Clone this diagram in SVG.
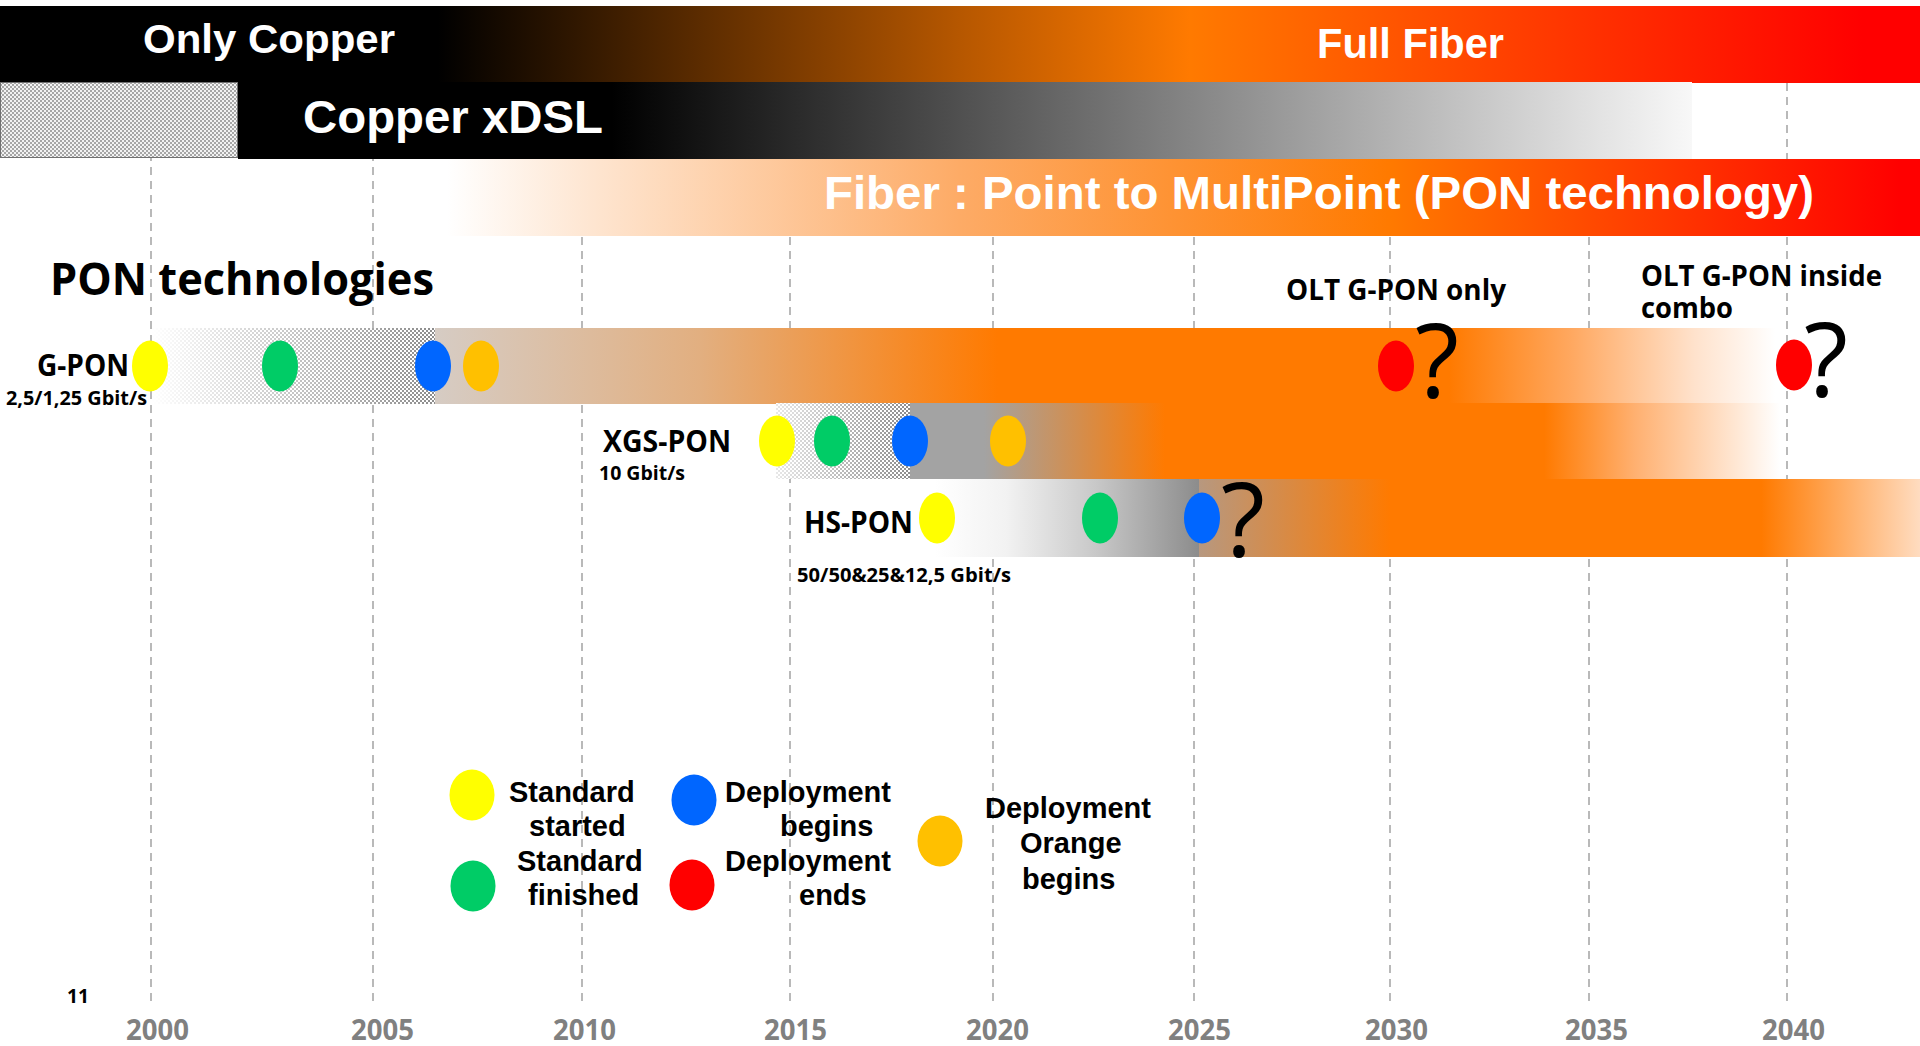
<svg xmlns="http://www.w3.org/2000/svg" width="1920" height="1046" viewBox="0 0 1920 1046">
  <defs>
    <style>
      .grid { stroke: #a8a8a8; stroke-width: 1.6; stroke-dasharray: 8 6; fill: none; }
      .band { font-family: "Liberation Sans", Arial, sans-serif; font-weight: bold; fill: #ffffff; }
      .lbl { font-family: "Open Sans", "Noto Sans", sans-serif; font-weight: bold; fill: #000000; }
      .year { font-family: "Open Sans", "Noto Sans", sans-serif; font-weight: bold; fill: #808080; font-size: 28px; }
      .leg { font-family: "Liberation Sans", Arial, sans-serif; font-weight: bold; fill: #000000; font-size: 29px; }
      .q { font-family: "Open Sans", "Noto Sans", sans-serif; font-weight: normal; fill: #000000; font-size: 102px; text-anchor: middle; }
      .y { fill: #ffff00; } .g { fill: #00cc66; } .b { fill: #0066ff; } .r { fill: #ff0000; } .o { fill: #ffc000; }
    </style>
    <pattern id="dither" width="4" height="4" patternUnits="userSpaceOnUse">
      <rect width="4" height="4" fill="#ffffff"/>
      <rect width="2" height="2" fill="#8c8c8c"/>
      <rect x="2" y="2" width="2" height="2" fill="#8c8c8c"/>
    </pattern>
    <pattern id="ditherLight" width="4" height="4" patternUnits="userSpaceOnUse">
      <rect width="4" height="4" fill="#f2f2f2"/>
      <rect width="2" height="2" fill="#a6a6a6"/>
      <rect x="2" y="2" width="2" height="2" fill="#a6a6a6"/>
    </pattern>
    <linearGradient id="fadeIn" x1="0" y1="0" x2="1" y2="0">
      <stop offset="0" stop-color="#ffffff" stop-opacity="1"/>
      <stop offset="1" stop-color="#ffffff" stop-opacity="0"/>
    </linearGradient>
    <linearGradient id="gradFull" gradientUnits="userSpaceOnUse" x1="0" y1="0" x2="1920" y2="0">
      <stop offset="0.228" stop-color="#000000"/>
      <stop offset="0.5" stop-color="#b65700"/>
      <stop offset="0.62" stop-color="#ff7a00"/>
      <stop offset="0.97" stop-color="#ff0000"/>
    </linearGradient>
    <linearGradient id="gradDsl" gradientUnits="userSpaceOnUse" x1="238" y1="0" x2="1692" y2="0">
      <stop offset="0.257" stop-color="#000000"/>
      <stop offset="1" stop-color="#f8f8f8"/>
    </linearGradient>
    <linearGradient id="gradPon" gradientUnits="userSpaceOnUse" x1="447" y1="0" x2="1920" y2="0">
      <stop offset="0" stop-color="#ffffff"/>
      <stop offset="0.1" stop-color="#fee5d0"/>
      <stop offset="0.348" stop-color="#fdab66"/>
      <stop offset="0.639" stop-color="#ff7a00"/>
      <stop offset="0.986" stop-color="#ff0000"/>
    </linearGradient>
    <linearGradient id="gradGpon" gradientUnits="userSpaceOnUse" x1="435" y1="0" x2="1775" y2="0">
      <stop offset="0" stop-color="#d6ccc4"/>
      <stop offset="0.198" stop-color="#e2af80"/>
      <stop offset="0.42" stop-color="#ff7a00"/>
      <stop offset="0.757" stop-color="#ff7a00"/>
      <stop offset="0.848" stop-color="#ffa860"/>
      <stop offset="0.94" stop-color="#ffe2cc"/>
      <stop offset="1" stop-color="#ffffff"/>
    </linearGradient>
    <linearGradient id="gradXgs" gradientUnits="userSpaceOnUse" x1="910" y1="0" x2="1780" y2="0">
      <stop offset="0" stop-color="#a3a3a3"/>
      <stop offset="0.085" stop-color="#a3a3a3"/>
      <stop offset="0.293" stop-color="#ff7a00"/>
      <stop offset="0.729" stop-color="#ff7a00"/>
      <stop offset="0.833" stop-color="#ffb070"/>
      <stop offset="1" stop-color="#ffffff"/>
    </linearGradient>
    <linearGradient id="gradHsGrey" gradientUnits="userSpaceOnUse" x1="935" y1="0" x2="1199" y2="0">
      <stop offset="0" stop-color="#ffffff"/>
      <stop offset="0.27" stop-color="#f2f2f2"/>
      <stop offset="0.61" stop-color="#c8c8c8"/>
      <stop offset="1" stop-color="#8c8c8c"/>
    </linearGradient>
    <linearGradient id="gradHs" gradientUnits="userSpaceOnUse" x1="1199" y1="0" x2="1920" y2="0">
      <stop offset="0" stop-color="#b7987f"/>
      <stop offset="0.265" stop-color="#ff7a00"/>
      <stop offset="0.78" stop-color="#ff7a00"/>
      <stop offset="1" stop-color="#ffdcc0"/>
    </linearGradient>
  </defs>

  <rect width="1920" height="1046" fill="#ffffff"/>

  <!-- year grid -->
  <g id="connectors">
    <line class="grid" x1="151" y1="83" x2="151" y2="1007"/>
    <line class="grid" x1="373" y1="83" x2="373" y2="1007"/>
    <line class="grid" x1="582" y1="83" x2="582" y2="1007"/>
    <line class="grid" x1="790" y1="83" x2="790" y2="1007"/>
    <line class="grid" x1="993" y1="83" x2="993" y2="1007"/>
    <line class="grid" x1="1194" y1="83" x2="1194" y2="1007"/>
    <line class="grid" x1="1390" y1="83" x2="1390" y2="1007"/>
    <line class="grid" x1="1589" y1="83" x2="1589" y2="1007"/>
    <line class="grid" x1="1787" y1="83" x2="1787" y2="1007"/>
  </g>

  <!-- access network bands -->
  <g id="band-copper-fiber">
    <rect x="0" y="6" width="1920" height="77" fill="url(#gradFull)"/>
    <text class="band" x="143" y="53" font-size="41" textLength="252" lengthAdjust="spacingAndGlyphs">Only Copper</text>
    <text class="band" x="1317" y="58" font-size="42" textLength="187" lengthAdjust="spacingAndGlyphs">Full Fiber</text>
  </g>
  <g id="band-xdsl">
    <rect x="0.5" y="82.5" width="237" height="75" fill="url(#ditherLight)" stroke="#707070" stroke-width="1"/>
    <rect x="238" y="82" width="1454" height="77" fill="url(#gradDsl)"/>
    <text class="band" x="303" y="133" font-size="47" textLength="300" lengthAdjust="spacingAndGlyphs">Copper xDSL</text>
  </g>
  <g id="band-pon">
    <rect x="447" y="159" width="1473" height="77" fill="url(#gradPon)"/>
    <text class="band" x="824" y="209" font-size="47" textLength="990" lengthAdjust="spacingAndGlyphs">Fiber : Point to MultiPoint (PON technology)</text>
  </g>

  <text id="title" class="lbl" x="50" y="295" font-size="45" textLength="384" lengthAdjust="spacingAndGlyphs">PON technologies</text>

  <!-- G-PON -->
  <g id="gpon">
    <rect x="152" y="328" width="283" height="76" fill="url(#dither)"/>
    <rect x="152" y="328" width="283" height="76" fill="url(#fadeIn)"/>
    <rect x="435" y="328" width="1340" height="76" fill="url(#gradGpon)"/>
    <text class="lbl" x="37" y="376" font-size="30" textLength="92" lengthAdjust="spacingAndGlyphs">G-PON</text>
    <text class="lbl" x="6" y="405" font-size="19" textLength="141" lengthAdjust="spacingAndGlyphs">2,5/1,25 Gbit/s</text>
    <ellipse class="y" cx="150" cy="366" rx="18" ry="25.5"/>
    <ellipse class="g" cx="280" cy="366" rx="18" ry="25.5"/>
    <ellipse class="b" cx="433" cy="366" rx="18" ry="25.5"/>
    <ellipse class="o" cx="481" cy="366" rx="18" ry="25.5"/>
    <ellipse class="r" cx="1396" cy="366" rx="18" ry="25.5"/>
    <text class="q" x="1437" y="398">?</text>
    <ellipse class="r" cx="1794" cy="365" rx="18" ry="25.5"/>
    <text class="q" x="1826" y="397">?</text>
  </g>

  <g id="olt-notes">
    <text class="lbl" x="1286" y="300" font-size="29" textLength="220" lengthAdjust="spacingAndGlyphs">OLT G-PON only</text>
    <text class="lbl" x="1641" y="286" font-size="29" textLength="241" lengthAdjust="spacingAndGlyphs">OLT G-PON inside</text>
    <text class="lbl" x="1641" y="318" font-size="29" textLength="92" lengthAdjust="spacingAndGlyphs">combo</text>
  </g>

  <!-- XGS-PON -->
  <g id="xgspon">
    <rect x="776" y="403" width="134" height="76" fill="url(#dither)"/>
    <rect x="776" y="403" width="134" height="76" fill="url(#fadeIn)" opacity="0.8"/>
    <rect x="910" y="403" width="870" height="76" fill="url(#gradXgs)"/>
    <text class="lbl" x="603" y="452" font-size="30" textLength="128" lengthAdjust="spacingAndGlyphs">XGS-PON</text>
    <text class="lbl" x="599" y="480" font-size="19" textLength="86" lengthAdjust="spacingAndGlyphs">10 Gbit/s</text>
    <ellipse class="y" cx="777" cy="441" rx="18" ry="25.5"/>
    <ellipse class="g" cx="832" cy="441" rx="18" ry="25.5"/>
    <ellipse class="b" cx="910" cy="441" rx="18" ry="25.5"/>
    <ellipse class="o" cx="1008" cy="441" rx="18" ry="25.5"/>
  </g>

  <!-- HS-PON -->
  <g id="hspon">
    <rect x="935" y="479" width="264" height="78" fill="url(#gradHsGrey)"/>
    <rect x="1199" y="479" width="721" height="78" fill="url(#gradHs)"/>
    <text class="lbl" x="804" y="533" font-size="30" textLength="109" lengthAdjust="spacingAndGlyphs">HS-PON</text>
    <text class="lbl" x="797" y="582" font-size="19" textLength="214" lengthAdjust="spacingAndGlyphs">50/50&amp;25&amp;12,5 Gbit/s</text>
    <ellipse class="y" cx="937" cy="518" rx="18" ry="25.5"/>
    <ellipse class="g" cx="1100" cy="518" rx="18" ry="25.5"/>
    <ellipse class="b" cx="1202" cy="518" rx="18" ry="25.5"/>
    <text class="q" x="1243" y="557">?</text>
  </g>

  <!-- legend -->
  <g id="legend-standard-started">
    <ellipse class="y" cx="472" cy="795" rx="22.5" ry="25.5"/>
    <text class="leg" x="509" y="802">Standard</text>
    <text class="leg" x="529" y="836">started</text>
  </g>
  <g id="legend-standard-finished">
    <ellipse class="g" cx="473" cy="886" rx="22.5" ry="25.5"/>
    <text class="leg" x="517" y="871">Standard</text>
    <text class="leg" x="528" y="905">finished</text>
  </g>
  <g id="legend-deployment-begins">
    <ellipse class="b" cx="694" cy="800" rx="22.5" ry="25.5"/>
    <text class="leg" x="725" y="802">Deployment</text>
    <text class="leg" x="780" y="836">begins</text>
  </g>
  <g id="legend-deployment-ends">
    <ellipse class="r" cx="692" cy="885" rx="22.5" ry="25.5"/>
    <text class="leg" x="725" y="871">Deployment</text>
    <text class="leg" x="799" y="905">ends</text>
  </g>
  <g id="legend-orange-begins">
    <ellipse class="o" cx="940" cy="841" rx="22.5" ry="25.5"/>
    <text class="leg" x="985" y="818">Deployment</text>
    <text class="leg" x="1020" y="853">Orange</text>
    <text class="leg" x="1022" y="889">begins</text>
  </g>

  <!-- axis -->
  <g id="axis">
    <text class="lbl" x="67" y="1003" font-size="19" textLength="22" lengthAdjust="spacingAndGlyphs">11</text>
    <text class="year" x="126" y="1040" textLength="63" lengthAdjust="spacingAndGlyphs">2000</text>
    <text class="year" x="351" y="1040" textLength="63" lengthAdjust="spacingAndGlyphs">2005</text>
    <text class="year" x="553" y="1040" textLength="63" lengthAdjust="spacingAndGlyphs">2010</text>
    <text class="year" x="764" y="1040" textLength="63" lengthAdjust="spacingAndGlyphs">2015</text>
    <text class="year" x="966" y="1040" textLength="63" lengthAdjust="spacingAndGlyphs">2020</text>
    <text class="year" x="1168" y="1040" textLength="63" lengthAdjust="spacingAndGlyphs">2025</text>
    <text class="year" x="1365" y="1040" textLength="63" lengthAdjust="spacingAndGlyphs">2030</text>
    <text class="year" x="1565" y="1040" textLength="63" lengthAdjust="spacingAndGlyphs">2035</text>
    <text class="year" x="1762" y="1040" textLength="63" lengthAdjust="spacingAndGlyphs">2040</text>
  </g>
</svg>
